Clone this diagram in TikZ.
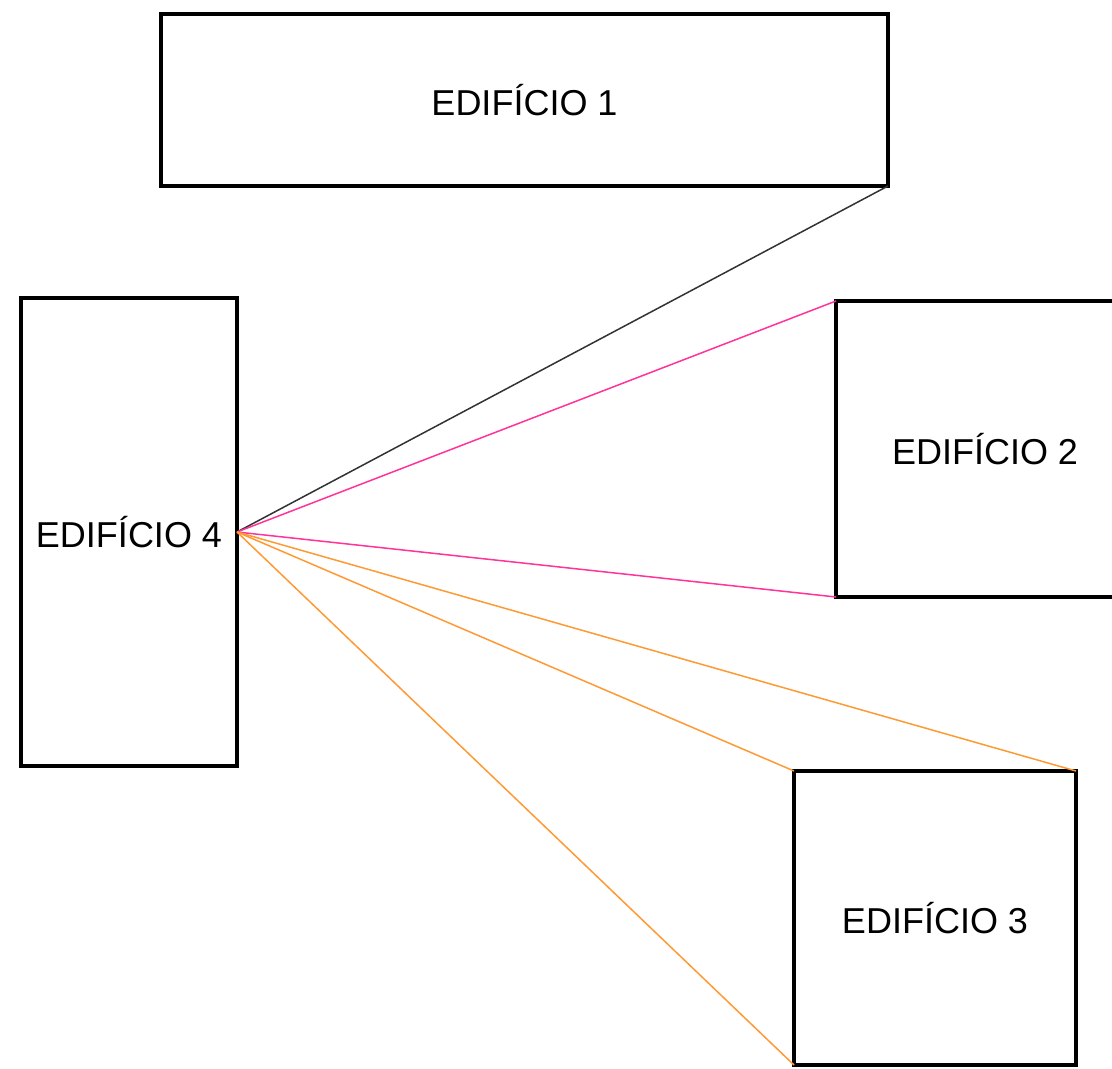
\documentclass[tikz,border=0pt]{standalone}
\usepackage{fontspec}
\setmainfont{Liberation Sans}
\usepackage{tikz}
\usetikzlibrary{positioning}
\definecolor{linkpink}{HTML}{FF3399}
\definecolor{linkorange}{HTML}{FF9933}

\begin{document}
\begin{tikzpicture}[
    x=0.5pt, y=-0.5pt,
    building/.style={rectangle, draw, line width=2pt, outer sep=0pt,
                     font=\fontsize{18}{22}\selectfont},
    link/.style={line width=0.75pt}
]
\useasboundingbox (0,0) rectangle (1112,1069);

% Buildings
\node[building, minimum width=363.5pt, minimum height=86pt] (ed1) at (524.5,100) {EDIFÍCIO 1};
\node[building, minimum width=149pt, minimum height=148pt] (ed2) at (985,449) {EDIFÍCIO 2};
\node[building, minimum width=141pt, minimum height=147pt] (ed3) at (935,918) {EDIFÍCIO 3};
\node[building, minimum width=108pt, minimum height=234pt] (ed4) at (129,532) {EDIFÍCIO 4};

% Links from building 4
\coordinate (hub) at (ed4.east);
\draw[link, black!80] (hub) -- (ed1.south east);
\draw[link, linkpink] (hub) -- (ed2.north west);
\draw[link, linkpink] (hub) -- (ed2.south west);
\draw[link, linkorange] (hub) -- (ed3.north east);
\draw[link, linkorange] (hub) -- (ed3.north west);
\draw[link, linkorange] (hub) -- (ed3.south west);

\end{tikzpicture}
\end{document}
